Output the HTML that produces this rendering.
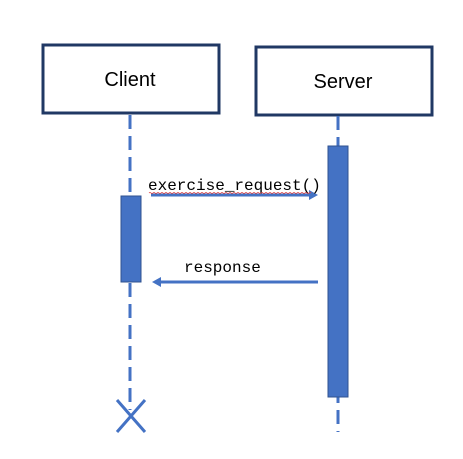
<!DOCTYPE html>
<html><head><style>body{margin:0;background:#fff}</style></head><body>
<svg width="463" height="454" xmlns="http://www.w3.org/2000/svg">
<rect x="0" y="0" width="463" height="454" fill="#fff"/>
<rect x="43" y="45" width="176" height="68" fill="#fff" stroke="#203864" stroke-width="3"/>
<rect x="256" y="47" width="176" height="68" fill="#fff" stroke="#203864" stroke-width="3"/>
<text x="130" y="86" font-family="Liberation Sans, sans-serif" font-size="20" text-anchor="middle" fill="#000">Client</text>
<text x="343" y="88" font-family="Liberation Sans, sans-serif" font-size="20" text-anchor="middle" fill="#000">Server</text>
<line x1="130" y1="115" x2="130" y2="410" stroke="#4472c4" stroke-width="3" stroke-dasharray="14,7"/>
<line x1="338" y1="116" x2="338" y2="432" stroke="#4472c4" stroke-width="3" stroke-dasharray="14,7"/>
<rect x="121" y="196" width="20" height="86" fill="#4472c4" stroke="#2f528f" stroke-width="1"/>
<rect x="328" y="146" width="20" height="251" fill="#4472c4" stroke="#2f528f" stroke-width="1"/>
<path d="M117 400 L145 432 M145 400 L117 432" stroke="#4472c4" stroke-width="3"/>
<line x1="151" y1="195" x2="312" y2="195" stroke="#4472c4" stroke-width="3"/>
<path d="M318 195 L309 190 L309 200 Z" fill="#4472c4"/>
<line x1="158" y1="282" x2="318" y2="282" stroke="#4472c4" stroke-width="3"/>
<path d="M152 282 L161 277 L161 287 Z" fill="#4472c4"/>
<text x="148" y="190" font-family="Liberation Mono, monospace" font-size="16" fill="#000">exercise_request()</text>
<path d="M149 193 q1 -1 2 0 t2 0 t2 0 t2 0 t2 0 t2 0 t2 0 t2 0 t2 0 t2 0 t2 0 t2 0 t2 0 t2 0 t2 0 t2 0 t2 0 t2 0 t2 0 t2 0 t2 0 t2 0 t2 0 t2 0 t2 0 t2 0 t2 0 t2 0 t2 0 t2 0 t2 0 t2 0 t2 0 t2 0 t2 0 t2 0 t2 0 t2 0 t2 0 t2 0 t2 0 t2 0 t2 0 t2 0 t2 0 t2 0 t2 0 t2 0 t2 0 t2 0 t2 0 t2 0 t2 0 t2 0 t2 0 t2 0 t2 0 t2 0 t2 0 t2 0 t2 0 t2 0 t2 0 t2 0 t2 0 t2 0 t2 0 t2 0 t2 0 t2 0 t2 0 t2 0 t2 0 t2 0 t2 0 t2 0 t2 0 t2 0 t2 0 t2 0 t2 0" fill="none" stroke="#e04040" stroke-width="0.8"/>
<text x="184" y="272" font-family="Liberation Mono, monospace" font-size="16" fill="#000">response</text>
</svg>
</body></html>
